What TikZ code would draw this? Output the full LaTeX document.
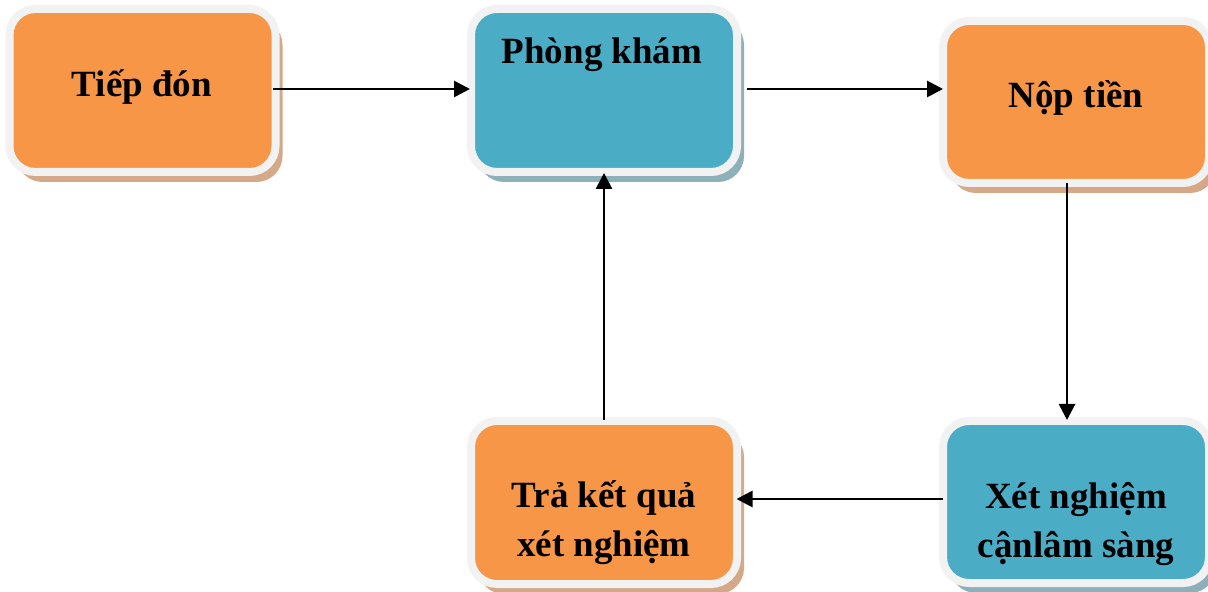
\documentclass[tikz,border=0pt]{standalone}
\usepackage{fontspec}
\setmainfont{Liberation Serif}
\usetikzlibrary{arrows.meta,shadows}

\definecolor{stepOrange}{HTML}{F79646}
\definecolor{stepBlue}{HTML}{4BACC6}
\definecolor{frameGrey}{HTML}{F2F2F2}
\definecolor{shadeOrange}{HTML}{D5A887}
\definecolor{shadeBlue}{HTML}{8EB0B9}

\tikzset{
  card/.style={rectangle, rounded corners=13pt, draw=frameGrey, line width=4pt,
    minimum width=133pt, minimum height=81.5pt, inner sep=0pt},
  orangecard/.style={card, fill=stepOrange,
    general shadow={fill=shadeOrange, shadow xshift=3.5pt, shadow yshift=-5pt}},
  bluecard/.style={card, fill=stepBlue,
    general shadow={fill=shadeBlue, shadow xshift=3.5pt, shadow yshift=-5pt}},
  caption/.style={anchor=base, align=center, inner sep=0pt,
    font=\bfseries\fontsize{18.5pt}{24.5pt}\selectfont},
  flow/.style={line width=1.4pt, -{Triangle[length=8pt,width=8pt]}}
}

\begin{document}
\begin{tikzpicture}[x=0.5pt, y=-0.5pt]
  \useasboundingbox (0,0) rectangle (1208,592);

  % process boxes
  \node[orangecard] (b1) at (142.5,90.5) {};
  \node[bluecard]   (b2) at (604,90.5) {};
  \node[orangecard, minimum height=81pt] (b3) at (1076,102) {};
  \node[bluecard,   minimum height=81pt] (b4) at (1076,502) {};
  \node[orangecard] (b5) at (604,502.5) {};

  % box captions (base anchor sits on the last line)
  \node[caption] (t1) at (142,97) {Tiếp đón};
  \node[caption] (t2) at (602,64) {Phòng khám};
  \node[caption] (t3) at (1076,108) {Nộp tiền};
  \node[caption] (t4) at (1076,557) {Xét nghiệm\\cậnlâm sàng};
  \node[caption] (t5) at (604,556) {Trả kết quả\\xét nghiệm};

  % flow between the steps
  \draw[flow] ([xshift=-3.25pt,yshift=0.75pt]b1.east) -- ([xshift=1.5pt,yshift=0.75pt]b2.west);
  \draw[flow] ([xshift=2.75pt,yshift=0.75pt]b2.east) -- ([xshift=2pt,yshift=0.75pt]b2.east -| b3.west);
  \draw[flow] ([xshift=-4.5pt,yshift=2pt]b3.south) -- ([xshift=-4.5pt,yshift=-1.5pt]b4.north);
  \draw[flow] ([xshift=2pt,yshift=1.5pt]b4.west) -- ([xshift=-2.25pt,yshift=1.5pt]b4.west -| b5.east);
  \draw[flow] ([yshift=-1.5pt]b5.north) -- ([yshift=1.5pt]b2.south);
\end{tikzpicture}
\end{document}
